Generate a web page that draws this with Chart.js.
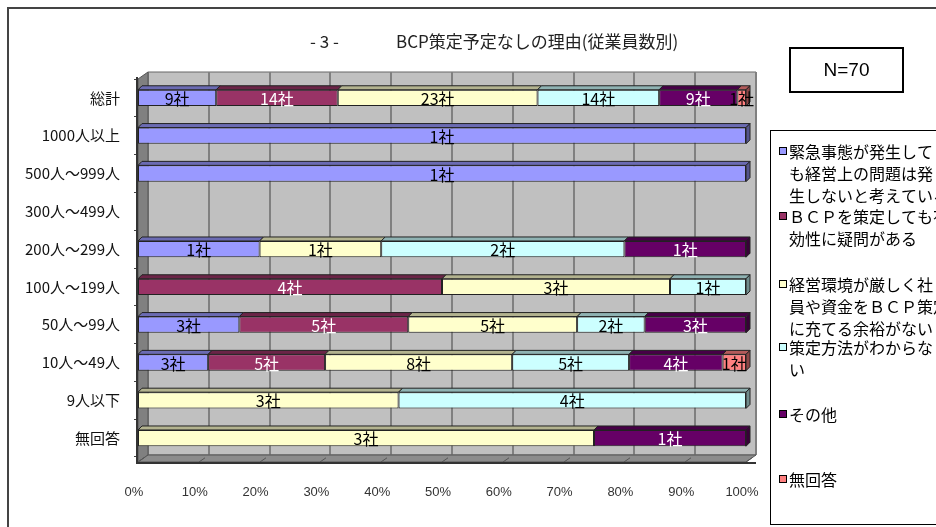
<!DOCTYPE html>
<html>
<head>
<meta charset="utf-8">
<script src="https://cdn.jsdelivr.net/npm/chart.js@4.4.1/dist/chart.umd.min.js"></script>
<style>
  html, body { margin: 0; padding: 0; background: #fff; }
  #wrap { width: 936px; height: 527px; }
</style>
</head>
<body>
<div id="wrap"><canvas id="bcp" width="936" height="527"></canvas></div>
<script>
// categories (rows, top to bottom)
const categories = ['総計', '1000人以上', '500人～999人', '300人～499人', '200人～299人',
  '100人～199人', '50人～99人', '10人～49人', '9人以下', '無回答'];

// legend names, broken into lines as in the original legend
const seriesNames = [
  ['緊急事態が発生して', 'も経営上の問題は発', '生しないと考えている'],
  ['ＢＣＰを策定しても有', '効性に疑問がある'],
  ['経営環境が厳しく社', '員や資金をＢＣＰ策定', 'に充てる余裕がない'],
  ['策定方法がわからな', 'い'],
  ['その他'],
  ['無回答']
];
const seriesColors = ['#9999FF', '#993366', '#FFFFCC', '#CCFFFF', '#660066', '#FF8080'];

// counts (社) per category
const noImpact    = [9, 1, 1, 0, 1, 0, 3, 3, 0, 0];
const doubtful    = [14, 0, 0, 0, 0, 4, 5, 5, 0, 0];
const noResources = [23, 0, 0, 0, 1, 3, 5, 8, 3, 3];
const noMethod    = [14, 0, 0, 0, 2, 1, 2, 5, 4, 0];
const other       = [9, 0, 0, 0, 1, 0, 3, 4, 0, 1];
const noAnswer    = [1, 0, 0, 0, 0, 0, 0, 1, 0, 0];

const xTicks = [0, 10, 20, 30, 40, 50, 60, 70, 80, 90, 100];
const titleNo = '- 3 -';
const titleText = 'BCP策定予定なしの理由(従業員数別)';
const totalLabel = 'N=70';

const counts = [noImpact, doubtful, noResources, noMethod, other, noAnswer];
const rowTotals = categories.map((c, i) => counts.reduce((s, a) => s + a[i], 0));
const darkSeries = [1, 4]; // labels drawn white on these

const JP = '"Noto Sans CJK JP", "Noto Sans", sans-serif';
const DX = 10, DY = -7, BD = 4;

function shade(hex, f) {
  const n = parseInt(hex.slice(1), 16);
  const r = Math.round(((n >> 16) & 255) * f), g = Math.round(((n >> 8) & 255) * f), b = Math.round((n & 255) * f);
  return 'rgb(' + r + ',' + g + ',' + b + ')';
}

function poly(ctx, pts, fill, stroke) {
  ctx.beginPath();
  ctx.moveTo(pts[0][0], pts[0][1]);
  for (let i = 1; i < pts.length; i++) ctx.lineTo(pts[i][0], pts[i][1]);
  ctx.closePath();
  if (fill) { ctx.fillStyle = fill; ctx.fill(); }
  if (stroke) { ctx.strokeStyle = stroke; ctx.stroke(); }
}

const decor = {
  id: 'decor',
  beforeDraw(chart) {
    const ctx = chart.ctx;
    ctx.save();
    // outer frame
    ctx.strokeStyle = '#444';
    ctx.lineWidth = 2;
    ctx.beginPath();
    ctx.moveTo(8, 530); ctx.lineTo(8, 8); ctx.lineTo(940, 8);
    ctx.stroke();

    // title
    ctx.fillStyle = '#222';
    ctx.font = '17px ' + JP;
    ctx.textBaseline = 'middle';
    ctx.textAlign = 'left';
    ctx.fillText(titleNo, 310, 42);
    ctx.fillText(titleText, 396, 42);

    // N box
    ctx.lineWidth = 2;
    ctx.strokeStyle = '#000';
    ctx.strokeRect(790, 48, 113, 44);
    ctx.font = '19px "Liberation Sans", Arial, sans-serif';
    ctx.textAlign = 'center';
    ctx.fillStyle = '#000';
    ctx.fillText(totalLabel, 846.5, 71);

    // legend
    ctx.lineWidth = 1;
    ctx.strokeRect(770.5, 130.5, 220, 394);
    const itemY = [152, 217, 285, 348, 415, 480];
    ctx.font = '16px ' + JP;
    ctx.textAlign = 'left';
    seriesNames.forEach((lines, i) => {
      ctx.fillStyle = seriesColors[i];
      ctx.fillRect(779.5, itemY[i] - 4.5, 7, 7);
      ctx.strokeStyle = '#000';
      ctx.strokeRect(779.5, itemY[i] - 4.5, 7, 7);
      ctx.fillStyle = '#000';
      lines.forEach((t, k) => ctx.fillText(t, 789, itemY[i] + k * 22));
    });
    ctx.restore();
  },
  beforeDatasetsDraw(chart) {
    const ctx = chart.ctx, a = chart.chartArea, xs = chart.scales.x;
    const top = a.top, bot = a.bottom + 5, l = a.left, r = a.right;
    ctx.save();
    ctx.lineWidth = 1;
    // back wall
    poly(ctx, [[l + DX, top + DY], [r + DX, top + DY], [r + DX, bot + DY], [l + DX, bot + DY]], '#C0C0C0', '#666');
    // grid lines on back wall
    ctx.strokeStyle = '#808080';
    ctx.lineWidth = 2;
    xTicks.forEach(v => {
      const x = Math.round(xs.getPixelForValue(v)) + DX;
      ctx.beginPath(); ctx.moveTo(x, top + DY); ctx.lineTo(x, bot + DY); ctx.stroke();
    });
    ctx.lineWidth = 1;
    // left wall and floor
    poly(ctx, [[l, top], [l + DX, top + DY], [l + DX, bot + DY], [l, bot]], '#808080', '#555');
    poly(ctx, [[l, bot], [l + DX, bot + DY], [r + DX, bot + DY], [r, bot]], '#8C8C8C', '#555');
    // floor tick marks
    ctx.strokeStyle = '#555';
    xTicks.forEach(v => {
      const x = Math.round(xs.getPixelForValue(v));
      ctx.beginPath(); ctx.moveTo(x, bot); ctx.lineTo(x + DX * 0.6, bot + DY * 0.6); ctx.stroke();
    });
    // front edges
    ctx.strokeStyle = '#333';
    ctx.lineWidth = 2;
    ctx.beginPath();
    ctx.moveTo(l - 1, top - 2); ctx.lineTo(l - 1, bot + 1); ctx.lineTo(r + DX, bot + 1);
    ctx.stroke();
    ctx.restore();
  },
  afterDatasetsDraw(chart) {
    const ctx = chart.ctx;
    ctx.save();
    ctx.lineWidth = 1;
    const lastSeg = {};
    chart.data.datasets.forEach((ds, i) => {
      const meta = chart.getDatasetMeta(i);
      meta.data.forEach((bar, j) => {
        if (!counts[i][j]) return;
        const p = bar.getProps(['x', 'y', 'base', 'height'], true);
        const t = p.y - p.height / 2;
        poly(ctx, [[p.base, t], [p.base + BD, t - BD], [p.x + BD, t - BD], [p.x, t]], shade(seriesColors[i], 0.7), '#222');
        lastSeg[j] = { p, i };
      });
    });
    Object.values(lastSeg).forEach(({ p, i }) => {
      const t = p.y - p.height / 2, b = p.y + p.height / 2;
      poly(ctx, [[p.x, t], [p.x + BD, t - BD], [p.x + BD, b - BD], [p.x, b]], shade(seriesColors[i], 0.55), '#222');
    });
    // value labels
    ctx.font = '16px ' + JP;
    ctx.textAlign = 'center';
    ctx.textBaseline = 'middle';
    chart.data.datasets.forEach((ds, i) => {
      const meta = chart.getDatasetMeta(i);
      meta.data.forEach((bar, j) => {
        const v = counts[i][j];
        if (!v) return;
        const p = bar.getProps(['x', 'y', 'base'], true);
        ctx.fillStyle = darkSeries.includes(i) ? '#fff' : '#000';
        ctx.fillText(v + '社', (p.x + p.base) / 2, p.y + 1);
      });
    });
    ctx.restore();
  }
};

new Chart(document.getElementById('bcp'), {
  type: 'bar',
  data: {
    labels: categories,
    datasets: counts.map((arr, i) => ({
      label: seriesNames[i].join(''),
      data: arr.map((v, j) => rowTotals[j] ? v / rowTotals[j] * 100 : 0),
      backgroundColor: seriesColors[i],
      borderColor: '#222',
      borderWidth: 1,
      borderSkipped: false,
      barPercentage: 0.43,
      categoryPercentage: 1.0
    }))
  },
  options: {
    indexAxis: 'y',
    responsive: false,
    animation: false,
    layout: { padding: { left: 0, right: 190, top: 79, bottom: 30 } },
    plugins: {
      legend: { display: false },
      title: { display: false },
      tooltip: { enabled: false }
    },
    scales: {
      x: {
        stacked: true,
        min: 0,
        max: 100,
        afterFit: s => { s.height = 40; },
        afterBuildTicks: s => { s.ticks = xTicks.map(v => ({ value: v })); },
        border: { display: false },
        grid: { display: false },
        ticks: {
          padding: 20,
          labelOffset: -4,
          color: '#333',
          font: { family: '"Liberation Sans", Arial, sans-serif', size: 13 },
          callback: v => v + '%'
        }
      },
      y: {
        stacked: true,
        afterFit: s => { s.width = 138; },
        border: { display: false },
        grid: { offset: true, drawOnChartArea: false, drawTicks: true, tickLength: 4, color: '#444' },
        ticks: {
          padding: 14,
          color: '#111',
          font: { family: JP, size: 15 }
        }
      }
    }
  },
  plugins: [decor]
});
</script>
</body>
</html>
